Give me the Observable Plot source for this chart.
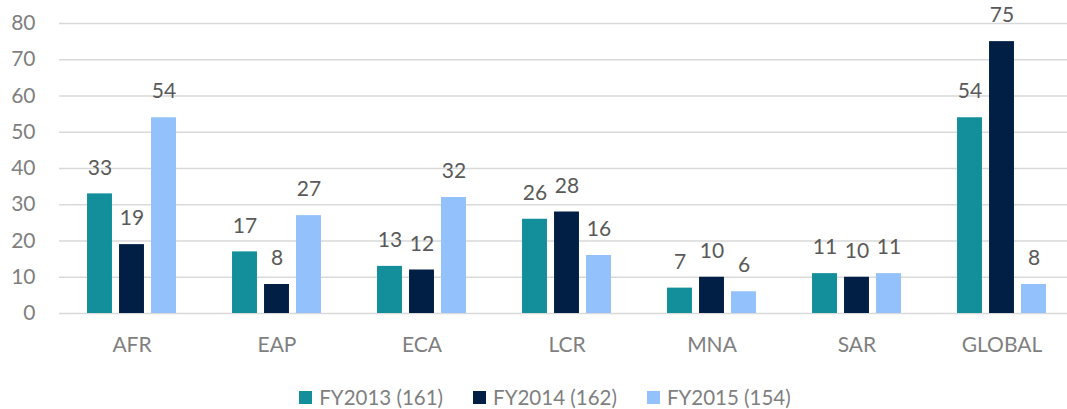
<!DOCTYPE html>
<html>
<head>
<meta charset="utf-8">
<script src="https://cdn.jsdelivr.net/npm/d3@7"></script>
<script src="https://cdn.jsdelivr.net/npm/@observablehq/plot@0.6"></script>
<style>
  body { margin: 0; background: #fff; font-family: Lato, "Open Sans", sans-serif; }
  #wrap { width: 1067px; height: 409px; position: relative; overflow: hidden; }
  #legend { position: absolute; top: 385px; left: 0; width: 1067px; display: flex; justify-content: center; padding-left: 23px; box-sizing: border-box; gap: 30px; font-size: 20.5px; color: #7f7f7f; }
  .item { display: flex; align-items: center; gap: 7px; }
  .sw { width: 13px; height: 13px; display: inline-block; }
</style>
</head>
<body>
<div id="wrap">
  <div id="chart"></div>
  <div id="legend"></div>
</div>
<script>
const regions = ["AFR", "EAP", "ECA", "LCR", "MNA", "SAR", "GLOBAL"];
const seriesNames = ["FY2013 (161)", "FY2014 (162)", "FY2015 (154)"];
const fy2013 = [33, 17, 13, 26, 7, 11, 54];
const fy2014 = [19, 8, 12, 28, 10, 10, 75];
const fy2015 = [54, 27, 32, 16, 6, 11, 8];
const colors = ["#138f9b", "#011f44", "#93c1fb"];
const yTicks = [0, 10, 20, 30, 40, 50, 60, 70, 80];

const seriesValues = [fy2013, fy2014, fy2015];
const band = (1074.5 - 59) / regions.length;
const barW = 25, gap = 7;
const groupW = 3 * barW + 2 * gap;

const marks = [
  Plot.ruleY(yTicks, {stroke: "#d9d9d9", strokeWidth: 1.5})
];
seriesValues.forEach((vals, i) => {
  const data = regions.map((r, j) => ({region: r, value: vals[j]}));
  const left = (band - groupW) / 2 + i * (barW + gap);
  const right = band - left - barW;
  marks.push(Plot.barY(data, {x: "region", y: "value", fill: colors[i], insetLeft: left, insetRight: right}));
  marks.push(Plot.text(data, {x: "region", y: "value", text: d => String(d.value), dx: (i - 1) * (barW + gap), dy: -26, fill: "#595959", fontSize: 21}));
});

const chart = Plot.plot({
  width: 1067,
  height: 360,
  marginLeft: 59,
  marginRight: 0,
  marginTop: 23,
  marginBottom: 47,
  style: {fontFamily: "Lato, 'Open Sans', sans-serif", fontSize: "21px", color: "#7f7f7f", background: "#fff"},
  x: {domain: regions, range: [59, 1074.5], padding: 0, tickSize: 0, tickPadding: 24, label: null},
  y: {domain: [0, 80], ticks: yTicks, tickSize: 0, tickPadding: 24, label: null},
  marks
});
document.getElementById("chart").appendChild(chart);

const legend = document.getElementById("legend");
seriesNames.forEach((n, i) => {
  const it = document.createElement("div");
  it.className = "item";
  it.innerHTML = `<span class="sw" style="background:${colors[i]}"></span><span>${n}</span>`;
  legend.appendChild(it);
});
</script>
</body>
</html>
